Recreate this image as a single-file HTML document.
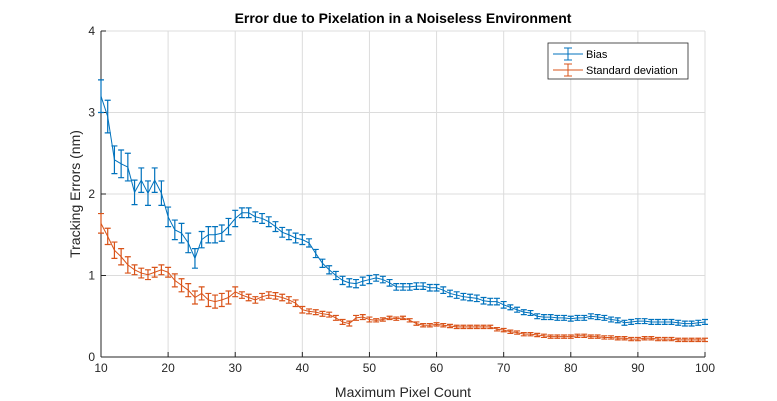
<!DOCTYPE html>
<html><head><meta charset="utf-8"><style>
body{margin:0;background:#fff;}
svg{display:block;font-family:"Liberation Sans",Arial,sans-serif;}
</style></head><body>
<svg id="chart" width="777" height="401" viewBox="0 0 777 401">
<rect width="777" height="401" fill="#fff"/>
<text x="403" y="23" text-anchor="middle" font-size="14" font-weight="bold" fill="#000">Error due to Pixelation in a Noiseless Environment</text>
<g id="grid"></g>
<g id="axes"></g>
<g id="series"></g>
<text x="403" y="397" text-anchor="middle" font-size="14" fill="#262626">Maximum Pixel Count</text>
<text transform="translate(80,194) rotate(-90)" text-anchor="middle" font-size="14" fill="#262626">Tracking Errors (nm)</text>
<g>
<rect x="548" y="43" width="140" height="36" fill="#fff" stroke="#262626" stroke-width="0.8"/>
<g>
<line x1="553" y1="54" x2="583" y2="54" stroke="#0072BD" stroke-width="1"/>
<line x1="568" y1="48" x2="568" y2="60" stroke="#0072BD" stroke-width="1"/>
<line x1="564" y1="48" x2="572" y2="48" stroke="#0072BD"/><line x1="564" y1="60" x2="572" y2="60" stroke="#0072BD"/>
<text x="586" y="58" font-size="11" fill="#000">Bias</text></g>
<g>
<line x1="553" y1="70" x2="583" y2="70" stroke="#D95319" stroke-width="1"/>
<line x1="568" y1="64" x2="568" y2="76" stroke="#D95319" stroke-width="1"/>
<line x1="564" y1="64" x2="572" y2="64" stroke="#D95319"/><line x1="564" y1="76" x2="572" y2="76" stroke="#D95319"/>
<text x="586" y="74" font-size="11" fill="#000">Standard deviation</text></g>
</g>
</svg>
<script>
const xTicks=[10,20,30,40,50,60,70,80,90,100];
const yTicks=[0,1,2,3,4];
const biasValues=[3.2,2.95,2.42,2.37,2.33,2.02,2.17,2.01,2.17,2.01,1.72,1.56,1.52,1.40,1.21,1.44,1.50,1.50,1.52,1.60,1.70,1.77,1.77,1.72,1.70,1.66,1.60,1.53,1.50,1.46,1.44,1.40,1.27,1.15,1.07,1.0,0.94,0.91,0.90,0.93,0.95,0.97,0.95,0.91,0.86,0.86,0.86,0.87,0.87,0.85,0.85,0.82,0.78,0.76,0.74,0.73,0.72,0.69,0.68,0.68,0.64,0.61,0.58,0.55,0.54,0.50,0.49,0.49,0.48,0.48,0.47,0.48,0.48,0.50,0.49,0.48,0.46,0.45,0.42,0.43,0.44,0.44,0.43,0.43,0.43,0.43,0.42,0.41,0.41,0.42,0.43];
const biasErr=[0.2,0.2,0.17,0.17,0.17,0.15,0.15,0.15,0.15,0.15,0.12,0.12,0.12,0.12,0.12,0.1,0.1,0.1,0.1,0.1,0.1,0.06,0.06,0.06,0.06,0.06,0.06,0.06,0.06,0.06,0.06,0.05,0.05,0.05,0.05,0.05,0.05,0.05,0.05,0.05,0.05,0.04,0.04,0.04,0.04,0.04,0.04,0.04,0.04,0.04,0.04,0.04,0.04,0.04,0.04,0.04,0.04,0.04,0.04,0.04,0.04,0.03,0.03,0.03,0.03,0.03,0.03,0.03,0.03,0.03,0.03,0.03,0.03,0.03,0.03,0.03,0.03,0.03,0.03,0.03,0.03,0.03,0.03,0.03,0.03,0.03,0.03,0.03,0.03,0.03,0.03];
const stdValues=[1.64,1.48,1.31,1.23,1.13,1.07,1.03,1.01,1.04,1.07,1.04,0.94,0.88,0.82,0.73,0.78,0.70,0.68,0.70,0.73,0.80,0.76,0.73,0.70,0.74,0.76,0.75,0.73,0.70,0.66,0.58,0.56,0.55,0.53,0.52,0.48,0.43,0.41,0.48,0.49,0.46,0.45,0.46,0.48,0.47,0.48,0.45,0.41,0.39,0.39,0.40,0.39,0.38,0.37,0.37,0.37,0.37,0.37,0.37,0.34,0.33,0.31,0.30,0.28,0.28,0.27,0.26,0.25,0.25,0.25,0.25,0.26,0.26,0.25,0.25,0.24,0.24,0.23,0.23,0.22,0.22,0.23,0.23,0.22,0.22,0.22,0.21,0.21,0.21,0.21,0.21];
const stdErr=[0.12,0.1,0.1,0.1,0.1,0.06,0.06,0.06,0.06,0.06,0.06,0.08,0.08,0.08,0.08,0.08,0.08,0.08,0.08,0.08,0.06,0.04,0.04,0.04,0.04,0.04,0.04,0.04,0.04,0.04,0.04,0.03,0.03,0.03,0.03,0.03,0.03,0.03,0.03,0.03,0.03,0.02,0.02,0.02,0.02,0.02,0.02,0.02,0.02,0.02,0.02,0.02,0.02,0.02,0.02,0.02,0.02,0.02,0.02,0.02,0.02,0.02,0.02,0.02,0.02,0.02,0.02,0.02,0.02,0.02,0.02,0.02,0.02,0.02,0.02,0.02,0.02,0.02,0.02,0.02,0.02,0.02,0.02,0.02,0.02,0.02,0.02,0.02,0.02,0.02,0.02];
const X0=101,X1=705,Y0=357,Y1=31;
function xs(v){return X0+(v-10)/90*(X1-X0);}
function ys(v){return Y0-v/4*(Y0-Y1);}
const NS='http://www.w3.org/2000/svg';
function mk(tag,attrs,parent){const e=document.createElementNS(NS,tag);for(const k in attrs)e.setAttribute(k,attrs[k]);parent.appendChild(e);return e;}
const grid=document.getElementById('grid'),axes=document.getElementById('axes'),ser=document.getElementById('series');
mk('rect',{x:X0,y:Y1,width:X1-X0,height:Y0-Y1,fill:'#fff'},grid);
xTicks.forEach(t=>{
 const l=mk('line',{x1:xs(t),x2:xs(t),y1:Y1,y2:Y0,stroke:'#dcdcdc','stroke-width':1},grid);
 
 
 const tk=mk('line',{x1:xs(t),x2:xs(t),y1:Y0,y2:Y0-5,stroke:'#262626'},axes);
 
 
 const tx=mk('text',{x:xs(t),y:Y0+15,'text-anchor':'middle','font-size':12,fill:'#262626'},axes);
 tx.textContent=t;
 
 
});
yTicks.forEach(t=>{
 const l=mk('line',{x1:X0,x2:X1,y1:ys(t),y2:ys(t),stroke:'#dcdcdc','stroke-width':1},grid);
 
 
 const tk=mk('line',{x1:X0,x2:X0+5,y1:ys(t),y2:ys(t),stroke:'#262626'},axes);
 
 
 const tx=mk('text',{x:X0-6,y:ys(t)+4,'text-anchor':'end','font-size':12,fill:'#262626'},axes);
 tx.textContent=t;
 
 
});
const xa=mk('line',{x1:X0,x2:X1,y1:Y0,y2:Y0,stroke:'#262626'},axes);


const ya=mk('line',{x1:X0,x2:X0,y1:Y1,y2:Y0,stroke:'#262626'},axes);


function drawSeries(vals,errs,color,name){
 const g=mk('g',{},ser);
 
 
 const pts=vals.map((v,i)=>xs(10+i)+','+ys(v)).join(' ');
 const pl=mk('polyline',{points:pts,fill:'none',stroke:color,'stroke-width':1},g);
 
 
 vals.forEach((v,i)=>{
  const x=xs(10+i),yt=ys(v+errs[i]),yb=ys(v-errs[i]);
  const eb=mk('path',{d:`M${x},${yt}V${yb}M${x-3},${yt}H${x+3}M${x-3},${yb}H${x+3}`,stroke:color,'stroke-width':1.2,fill:'none'},g);
  
  
 });
}
drawSeries(biasValues,biasErr,'#0072BD','bias');
drawSeries(stdValues,stdErr,'#D95319','std');
</script>
</body></html>
